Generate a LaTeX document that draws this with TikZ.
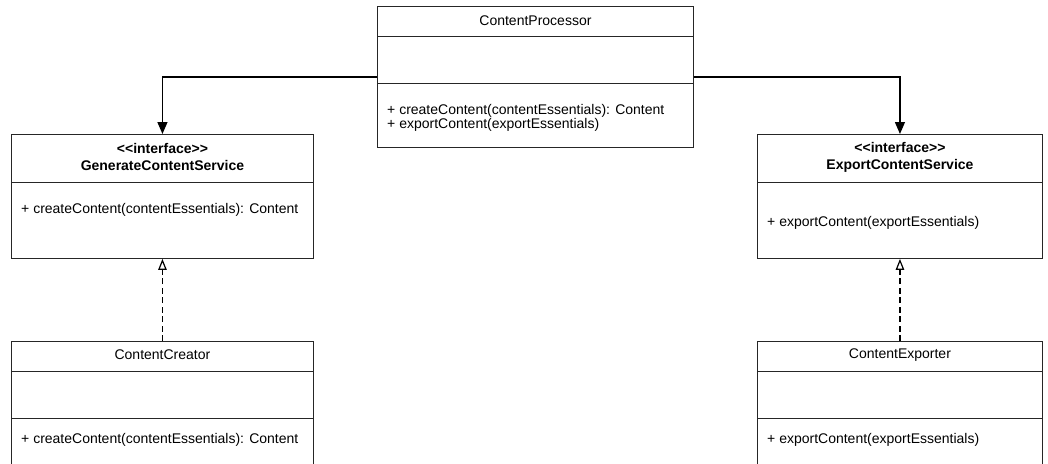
\documentclass[tikz,border=0pt]{standalone}
\usepackage{fontspec}
\setmainfont{Liberation Sans}
\usetikzlibrary{arrows.meta,calc}

\begin{document}
\begin{tikzpicture}[x=1pt,y=1pt,
  font=\fontsize{14}{17}\selectfont,
  classbox/.style={draw=black!85, line width=0.9pt, fill=white, rectangle,
    anchor=north west, inner sep=0pt},
  divider/.style={draw=black!85, line width=0.9pt},
  label/.style={inner sep=0pt, anchor=center},
  members/.style={inner sep=0pt, anchor=west, align=left,
    font=\fontsize{14}{13.5}\selectfont},
  assoc/.style={line width=1.3pt, -{Triangle[length=12pt, width=10pt]}},
  realize/.style={line width=1.3pt, dash pattern=on 6pt off 3.5pt,
    -{Triangle[open, length=11pt, width=8.5pt, line width=1.2pt]}}
]
\useasboundingbox (0,0) rectangle (1048,-463);
\clip (0,0) rectangle (1048,-463);

% ContentProcessor
\node[classbox, minimum width=316, minimum height=141] (cp) at (377,-6) {};
\node[label] (cptitle) at ($(cp.north)+(0,-15)$) {ContentProcessor};
\draw[divider] ($(cp.north west)+(0,-30)$) -- ($(cp.north east)+(0,-30)$);
\draw[divider] ($(cp.north west)+(0,-77)$) -- ($(cp.north east)+(0,-77)$);
\node[members] (cpops) at ($(cp.north west)+(10,-112)$)
  {+ createContent(contentEssentials): Content\\+ exportContent(exportEssentials)};

% GenerateContentService
\node[classbox, minimum width=302, minimum height=124] (gcs) at (11,-134) {};
\node[label, font=\fontsize{14}{17}\selectfont\bfseries] (gcstitle) at ($(gcs.north)+(0,-23)$)
  [align=center] {<\kern0pt<interface>\kern0pt>\\GenerateContentService};
\draw[divider] ($(gcs.north west)+(0,-48)$) -- ($(gcs.north east)+(0,-48)$);
\node[members] (gcsops) at ($(gcs.north west)+(10,-76)$)
  {+ createContent(contentEssentials): Content};

% ExportContentService
\node[classbox, minimum width=285, minimum height=124] (ecs) at (757,-134) {};
\node[label, font=\fontsize{14}{17}\selectfont\bfseries] (ecstitle) at ($(ecs.north)+(0,-23)$)
  [align=center] {<\kern0pt<interface>\kern0pt>\\ExportContentService};
\draw[divider] ($(ecs.north west)+(0,-48)$) -- ($(ecs.north east)+(0,-48)$);
\node[members] (ecsops) at ($(ecs.north west)+(10,-89)$)
  {+ exportContent(exportEssentials)};

% ContentCreator (runs past the lower edge)
\node[classbox, minimum width=302, minimum height=160] (cc) at (11,-341) {};
\node[label] (cctitle) at ($(cc.north)+(0,-14)$) {ContentCreator};
\draw[divider] ($(cc.north west)+(0,-30)$) -- ($(cc.north east)+(0,-30)$);
\draw[divider] ($(cc.north west)+(0,-77)$) -- ($(cc.north east)+(0,-77)$);
\node[members] (ccops) at ($(cc.north west)+(10,-99)$)
  {+ createContent(contentEssentials): Content};

% ContentExporter (runs past the lower edge)
\node[classbox, minimum width=285, minimum height=160] (ce) at (757,-341) {};
\node[label] (cetitle) at ($(ce.north)+(0,-14)$) {ContentExporter};
\draw[divider] ($(ce.north west)+(0,-30)$) -- ($(ce.north east)+(0,-30)$);
\draw[divider] ($(ce.north west)+(0,-77)$) -- ($(ce.north east)+(0,-77)$);
\node[members] (ceops) at ($(ce.north west)+(10,-99)$)
  {+ exportContent(exportEssentials)};

% associations
\draw[assoc] (cp.west) -| (gcs.north);
\draw[assoc] (cp.east) -| (ecs.north);

% realizations
\draw[realize] (cc.north) -- (gcs.south);
\draw[realize] (ce.north) -- (ecs.south);
\end{tikzpicture}
\end{document}
